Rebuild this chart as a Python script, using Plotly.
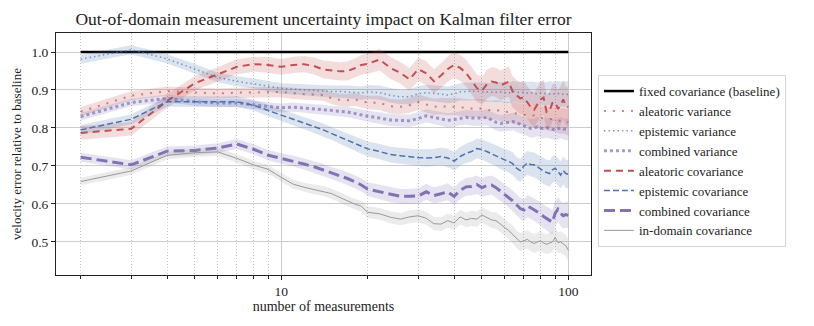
import plotly.graph_objects as go

# number of measurements
n_meas = list(range(2, 21)) + list(range(22, 101, 2))

baseline = [1.0] * len(n_meas)

aleatoric_var = [
    0.843, 0.885, 0.897, 0.893, 0.891, 0.893, 0.893, 0.894, 0.895, 0.891,
    0.889, 0.888, 0.887, 0.878, 0.874, 0.873, 0.875, 0.870, 0.867,
    0.866, 0.857, 0.856, 0.860, 0.868, 0.862, 0.856, 0.857, 0.856, 0.857,
    0.855, 0.852, 0.851, 0.853, 0.850,
    0.849, 0.846, 0.848, 0.844, 0.843, 0.842, 0.840, 0.838, 0.836, 0.835,
    0.834, 0.832, 0.833, 0.830, 0.828, 0.825, 0.826, 0.823, 0.824, 0.822,
    0.820, 0.818, 0.819, 0.816, 0.815,
]
epistemic_var = [
    0.981, 1.006, 0.982, 0.956, 0.933, 0.923, 0.917, 0.910, 0.904, 0.902,
    0.900, 0.899, 0.897, 0.896, 0.896, 0.895, 0.894, 0.892, 0.895,
    0.893, 0.886, 0.882, 0.882, 0.890, 0.893, 0.891, 0.889, 0.887, 0.890,
    0.895, 0.896, 0.896, 0.897, 0.895,
    0.894, 0.893, 0.894, 0.895, 0.893, 0.892, 0.896, 0.894, 0.893, 0.894,
    0.892, 0.893, 0.891, 0.890, 0.892, 0.891, 0.890, 0.891, 0.889, 0.890,
    0.891, 0.889, 0.890, 0.889, 0.888,
]
combined_var = [
    0.830, 0.867, 0.878, 0.869, 0.866, 0.866, 0.861, 0.856, 0.853, 0.855,
    0.852, 0.850, 0.848, 0.845, 0.844, 0.842, 0.838, 0.834, 0.831,
    0.826, 0.821, 0.820, 0.819, 0.825, 0.832, 0.828, 0.824, 0.820, 0.822,
    0.826, 0.828, 0.826, 0.825, 0.826,
    0.828, 0.822, 0.815, 0.812, 0.813, 0.815, 0.817, 0.814, 0.810, 0.806,
    0.802, 0.799, 0.800, 0.803, 0.800, 0.798, 0.801, 0.800, 0.797, 0.795,
    0.798, 0.800, 0.797, 0.796, 0.797,
]
aleatoric_cov = [
    0.787, 0.798, 0.871, 0.918, 0.941, 0.961, 0.968, 0.966, 0.961, 0.966,
    0.968, 0.963, 0.954, 0.951, 0.949, 0.950, 0.957, 0.966, 0.969,
    0.980, 0.958, 0.945, 0.928, 0.955, 0.944, 0.923, 0.938, 0.955, 0.966,
    0.958, 0.945, 0.925, 0.905, 0.898,
    0.915, 0.922, 0.920, 0.912, 0.918, 0.922, 0.895, 0.885, 0.878, 0.880,
    0.866, 0.855, 0.848, 0.862, 0.875, 0.880, 0.842, 0.845, 0.866, 0.868,
    0.850, 0.860, 0.875, 0.858, 0.855,
]
epistemic_cov = [
    0.795, 0.823, 0.869, 0.870, 0.869, 0.869, 0.860, 0.846, 0.834, 0.822,
    0.812, 0.803, 0.795, 0.785, 0.776, 0.767, 0.758, 0.751, 0.745,
    0.738, 0.730, 0.727, 0.724, 0.722, 0.721, 0.722, 0.725, 0.721, 0.713,
    0.725, 0.733, 0.738, 0.746, 0.743,
    0.738, 0.732, 0.727, 0.720, 0.716, 0.712, 0.706, 0.694, 0.688, 0.700,
    0.708, 0.704, 0.703, 0.698, 0.692, 0.686, 0.683, 0.680, 0.690, 0.694,
    0.686, 0.676, 0.688, 0.680, 0.678,
]
combined_cov = [
    0.723, 0.703, 0.739, 0.741, 0.747, 0.758, 0.744, 0.728, 0.720, 0.713,
    0.705, 0.698, 0.690, 0.681, 0.674, 0.667, 0.659, 0.650, 0.639,
    0.632, 0.624, 0.620, 0.620, 0.621, 0.632, 0.622, 0.627, 0.632, 0.620,
    0.636, 0.645, 0.646, 0.651, 0.643,
    0.648, 0.650, 0.643, 0.634, 0.627, 0.618, 0.608, 0.598, 0.588, 0.584,
    0.594, 0.590, 0.585, 0.580, 0.574, 0.567, 0.562, 0.556, 0.552, 0.576,
    0.586, 0.575, 0.569, 0.572, 0.570,
]
in_domain_cov = [
    0.659, 0.687, 0.728, 0.735, 0.737, 0.720, 0.703, 0.691, 0.670, 0.652,
    0.644, 0.638, 0.634, 0.627, 0.617, 0.608, 0.600, 0.594, 0.578,
    0.574, 0.565, 0.560, 0.566, 0.569, 0.562, 0.548, 0.547, 0.556, 0.550,
    0.566, 0.558, 0.562, 0.560, 0.571,
    0.565, 0.558, 0.556, 0.548, 0.538, 0.530, 0.520, 0.508, 0.500, 0.503,
    0.507, 0.500, 0.496, 0.500, 0.503, 0.497, 0.494, 0.497, 0.500, 0.512,
    0.498, 0.500, 0.495, 0.490, 0.478,
]

# how much the shaded spread grows with the number of measurements
spread_growth = [
    1.0, 1.0, 1.0, 1.05, 1.05, 1.1, 1.1, 1.15, 1.15, 1.2,
    1.2, 1.25, 1.3, 1.3, 1.35, 1.4, 1.4, 1.45, 1.5,
    1.55, 1.6, 1.6, 1.65, 1.7, 1.75, 1.75, 1.8, 1.85, 1.9,
    1.9, 1.95, 2.0, 2.0, 2.05,
    2.1, 2.1, 2.15, 2.2, 2.2, 2.25, 2.3, 2.3, 2.35, 2.4,
    2.4, 2.45, 2.5, 2.5, 2.55, 2.6, 2.6, 2.65, 2.7, 2.7,
    2.75, 2.8, 2.8, 2.85, 2.9,
]

RED = "196,78,82"
BLUE = "76,114,176"
PURPLE = "129,114,179"
GRAY = "153,153,153"

# name, values, colour, line width, dash, opacity, base spread
SERIES = [
    ("fixed covariance (baseline)", baseline, "0,0,0", 2.5, "solid", 1.0, 0.0),
    ("aleatoric variance", aleatoric_var, RED, 2, "2px,7px", 0.7, 0.012),
    ("epistemic variance", epistemic_var, BLUE, 1.5, "1.5px,3px", 0.7, 0.012),
    ("combined variance", combined_var, PURPLE, 3, "3px,3px", 0.7, 0.010),
    ("aleatoric covariance", aleatoric_cov, RED, 2, "7px,5px", 1.0, 0.018),
    ("epistemic covariance", epistemic_cov, BLUE, 1.5, "6px,3px", 1.0, 0.013),
    ("combined covariance", combined_cov, PURPLE, 3, "11px,5px", 1.0, 0.012),
    ("in-domain covariance", in_domain_cov, GRAY, 1, "solid", 1.0, 0.010),
]

fig = go.Figure()

for name, vals, rgb, width, dash, alpha, spread in SERIES:
    if spread > 0:
        upper = [v + spread * g for v, g in zip(vals, spread_growth)]
        lower = [v - spread * g for v, g in zip(vals, spread_growth)]
        fig.add_trace(go.Scatter(
            x=n_meas + n_meas[::-1],
            y=upper + lower[::-1],
            fill="toself",
            fillcolor=f"rgba({rgb},0.2)",
            line=dict(width=0),
            hoverinfo="skip",
            showlegend=False,
        ))
    fig.add_trace(go.Scatter(
        x=n_meas,
        y=vals,
        mode="lines",
        name=name,
        line=dict(color=f"rgba({rgb},{alpha})", width=width, dash=dash),
    ))

# the page body adds an 8px offset, so the figure is a little smaller
fig.update_layout(
    width=806,
    height=318,
    margin=dict(l=48, r=223, t=25, b=51),
    paper_bgcolor="white",
    plot_bgcolor="white",
    font=dict(family="Liberation Serif", size=13, color="#222222"),
    title=dict(
        text="Out-of-domain measurement uncertainty impact on Kalman filter error",
        x=0.5, xref="paper", xanchor="center",
        y=0.966, yanchor="middle",
        font=dict(size=17.5, color="#222222"),
    ),
    legend=dict(
        x=1.013, y=0.826, xanchor="left", yanchor="top",
        bordercolor="#d6d6d6", borderwidth=1,
        bgcolor="white",
        font=dict(size=13),
        itemwidth=30,
        tracegroupgap=0,
    ),
    showlegend=True,
)

fig.update_xaxes(
    type="log",
    range=[0.215, 2.079],
    tickvals=[10, 100],
    ticktext=["10", "100"],
    ticks="outside", ticklen=4, tickcolor="#222222",
    tickfont=dict(size=13.5),
    showgrid=True, gridcolor="#cccccc", gridwidth=1,
    minor=dict(
        tickvals=[2, 3, 4, 5, 6, 7, 8, 9, 20, 30, 40, 50, 60, 70, 80, 90],
        ticks="outside", ticklen=2.5, tickcolor="#222222",
        showgrid=True, gridcolor="#c4c4c4", griddash="1px,2px", gridwidth=1,
    ),
    showline=True, linecolor="#222222", linewidth=1, mirror=True,
    zeroline=False,
    automargin=False,
    title=dict(text="number of measurements", standoff=0, font=dict(size=14)),
)
fig.update_yaxes(
    range=[0.413, 1.05],
    tickvals=[0.5, 0.6, 0.7, 0.8, 0.9, 1.0],
    tickformat=".1f",
    ticks="outside", ticklen=4, tickcolor="#222222",
    tickfont=dict(size=13.5),
    showgrid=True, gridcolor="#cccccc", gridwidth=1,
    showline=True, linecolor="#222222", linewidth=1, mirror=True,
    zeroline=False,
    automargin=False,
    title=dict(text="velocity error relative to baseline", standoff=6, font=dict(size=13)),
)

fig.write_html("out.html")
